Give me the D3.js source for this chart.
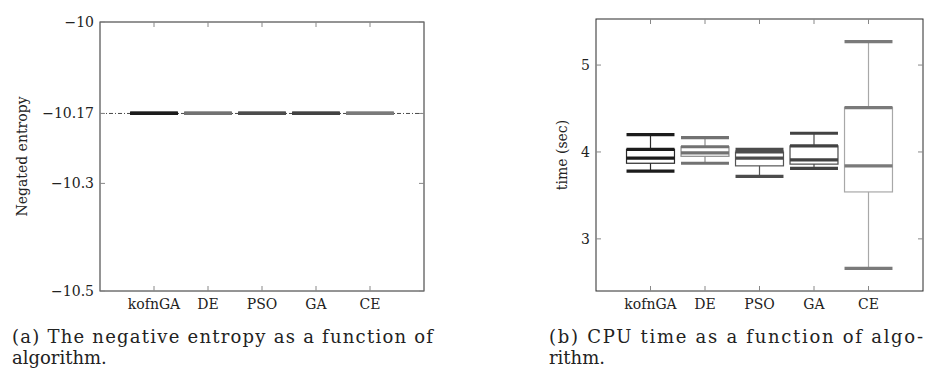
<!DOCTYPE html>
<html>
<head>
<meta charset="utf-8">
<script src="https://cdn.jsdelivr.net/npm/d3@7"></script>
<style>
  body { margin: 0; background: #fff; }
</style>
</head>
<body>
<div id="chart"></div>
<script>
const algorithms = ['kofnGA', 'DE', 'PSO', 'GA', 'CE'];
const colors = ['#1c1c1c', '#727272', '#4c4c4c', '#424242', '#7a7a7a'];
const thinColors = ['#2a2a2a', '#8c8c8c', '#555555', '#4a4a4a', '#a8a8a8'];

// (a) negated entropy: every run gives the same value
const entropyValue = [-10.17, -10.17, -10.17, -10.17, -10.17];
const entropyRef = -10.17;
const entropyTicks = [-10, -10.17, -10.3, -10.5];

// (b) CPU time box plots
const timeLowerWhisker = [3.78, 3.87, 3.72, 3.81, 2.66];
const timeQ1 = [3.87, 3.95, 3.84, 3.86, 3.54];
const timeMedian = [3.93, 3.99, 3.93, 3.91, 3.84];
const timeQ3 = [4.03, 4.06, 4.00, 4.07, 4.51];
const timeUpperWhisker = [4.20, 4.165, 4.03, 4.215, 5.27];
const timeTicks = [3, 4, 5];

const width = 933;
const height = 370;
const tickLen = 5;
const serif = "'DejaVu Serif', 'Liberation Serif', serif";

const svg = d3.select('#chart')
  .append('svg')
  .attr('width', width)
  .attr('height', height)
  .attr('font-family', serif)
  .style('font-family', serif);

function fmt(d) {
  return String(d).replace('-', '\u2212');
}

// Draws the axis frame, inward ticks on all four sides and the labels
function drawFrame(g, x, y, yTicks, yLabel) {
  const [x0, x1] = x.range();
  const [y0, y1] = y.range();

  g.append('rect')
    .attr('x', x0).attr('y', y1)
    .attr('width', x1 - x0).attr('height', y0 - y1)
    .attr('fill', 'none')
    .attr('stroke', '#2b2b2b')
    .attr('stroke-width', 1);

  const xt = d3.range(1, algorithms.length + 1);
  g.selectAll('.xtick-b').data(xt).enter().append('line')
    .attr('x1', d => x(d)).attr('x2', d => x(d))
    .attr('y1', y0).attr('y2', y0 - tickLen)
    .attr('stroke', '#888');
  g.selectAll('.xtick-t').data(xt).enter().append('line')
    .attr('x1', d => x(d)).attr('x2', d => x(d))
    .attr('y1', y1).attr('y2', y1 + tickLen)
    .attr('stroke', '#888');
  g.selectAll('.xlab').data(algorithms).enter().append('text')
    .attr('x', (d, i) => x(i + 1))
    .attr('y', y0 + 18)
    .attr('text-anchor', 'middle')
    .attr('font-size', 14)
    .attr('fill', '#222')
    .text(d => d);

  g.selectAll('.ytick-l').data(yTicks).enter().append('line')
    .attr('x1', x0).attr('x2', x0 + tickLen)
    .attr('y1', d => y(d)).attr('y2', d => y(d))
    .attr('stroke', '#888');
  g.selectAll('.ytick-r').data(yTicks).enter().append('line')
    .attr('x1', x1).attr('x2', x1 - tickLen)
    .attr('y1', d => y(d)).attr('y2', d => y(d))
    .attr('stroke', '#888');
  g.selectAll('.ylab').data(yTicks).enter().append('text')
    .attr('x', x0 - 6)
    .attr('y', d => y(d))
    .attr('dy', '0.35em')
    .attr('text-anchor', 'end')
    .attr('font-size', 14)
    .attr('fill', '#222')
    .text(fmt);

  g.append('text')
    .attr('transform', `translate(${yLabel.x}, ${(y0 + y1) / 2}) rotate(-90)`)
    .attr('text-anchor', 'middle')
    .attr('dy', '0.35em')
    .attr('font-size', 14)
    .attr('fill', '#222')
    .text(yLabel.text);
}

// Box plot with thin outline / whiskers and thick caps, upper quartile and median
function drawBoxes(g, x, y, lw, q1, med, q3, uw) {
  const half = 0.44;
  algorithms.forEach((name, i) => {
    const cx = x(i + 1);
    const xl = x(i + 1 - half);
    const xr = x(i + 1 + half);
    const c = colors[i];
    const tc = thinColors[i];
    const box = g.append('g');
    box.append('line')
      .attr('x1', cx).attr('x2', cx)
      .attr('y1', y(uw[i])).attr('y2', y(q3[i]))
      .attr('stroke', tc).attr('stroke-width', 1.2);
    box.append('line')
      .attr('x1', cx).attr('x2', cx)
      .attr('y1', y(q1[i])).attr('y2', y(lw[i]))
      .attr('stroke', tc).attr('stroke-width', 1.2);
    box.append('rect')
      .attr('x', xl).attr('y', y(q3[i]))
      .attr('width', xr - xl).attr('height', Math.max(0, y(q1[i]) - y(q3[i])))
      .attr('fill', 'none')
      .attr('stroke', tc).attr('stroke-width', 1.2);
    [uw[i], q3[i], med[i], lw[i]].forEach(v => {
      box.append('line')
        .attr('x1', xl).attr('x2', xr)
        .attr('y1', y(v)).attr('y2', y(v))
        .attr('stroke', c).attr('stroke-width', 3.2);
    });
  });
}

// ---- (a) negated entropy ----
const xa = d3.scaleLinear().domain([0, 6]).range([100, 424]);
const ya = d3.scaleLinear().domain([-10.5, -10]).range([291, 22]);
const ga = svg.append('g');

ga.append('line')
  .attr('x1', xa(0)).attr('x2', xa(6))
  .attr('y1', ya(entropyRef)).attr('y2', ya(entropyRef))
  .attr('stroke', '#333').attr('stroke-width', 0.9)
  .attr('stroke-dasharray', '4,2,1,2');
drawBoxes(ga, xa, ya, entropyValue, entropyValue, entropyValue, entropyValue, entropyValue);
drawFrame(ga, xa, ya, entropyTicks, { x: 22, text: 'Negated entropy' });

// ---- (b) CPU time ----
const xb = d3.scaleLinear().domain([0, 6]).range([596, 923]);
const yb = d3.scaleLinear().domain([2.4, 5.53]).range([291, 19]);
const gb = svg.append('g');
drawBoxes(gb, xb, yb, timeLowerWhisker, timeQ1, timeMedian, timeQ3, timeUpperWhisker);
drawFrame(gb, xb, yb, timeTicks, { x: 562, text: 'time (sec)' });

// ---- captions ----
const captions = [
  { x: 12, y: 343, w: 421, text: '(a) The negative entropy as a function of' },
  { x: 12, y: 364, w: 0, text: 'algorithm.' },
  { x: 549, y: 343, w: 374, text: '(b) CPU time as a function of algo-' },
  { x: 549, y: 364, w: 0, text: 'rithm.' }
];
captions.forEach(c => {
  const t = svg.append('text')
    .attr('x', c.x).attr('y', c.y)
    .attr('font-size', 18)
    .attr('fill', '#222')
    .text(c.text);
  if (c.w) t.attr('textLength', c.w).attr('lengthAdjust', 'spacing');
});
</script>
</body>
</html>
